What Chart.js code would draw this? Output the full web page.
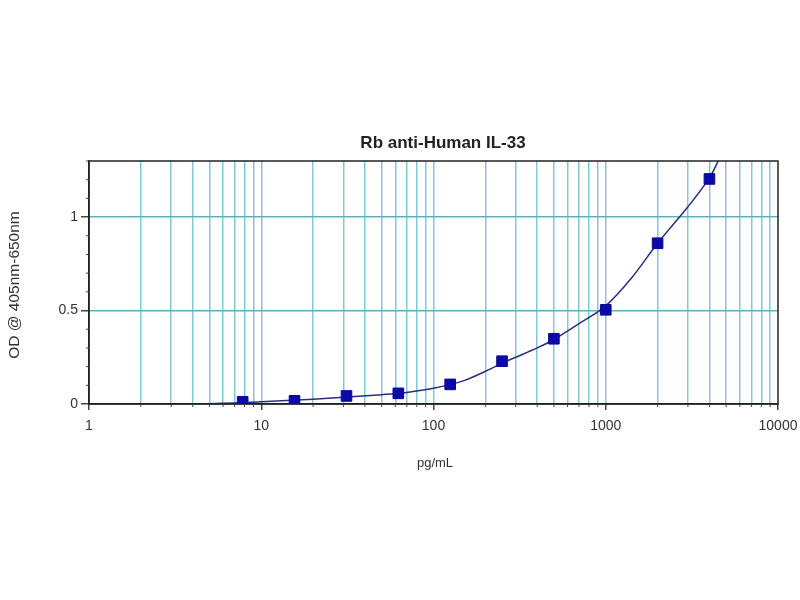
<!DOCTYPE html>
<html>
<head>
<meta charset="utf-8">
<script src="https://cdn.jsdelivr.net/npm/chart.js@4/dist/chart.umd.min.js"></script>
<style>
  html, body { margin: 0; padding: 0; background: #fff; }
  #wrap { width: 800px; height: 600px; }
</style>
</head>
<body>
<div id="wrap"><canvas id="grafica" width="800" height="600"></canvas></div>
<script>
// Concentraciones de los estandares (pg/mL) y su OD medida
const concentraciones = [7.8, 15.6, 31.25, 62.5, 125, 250, 500, 1000, 2000, 4000];
const valoresOD = [0.012, 0.017, 0.043, 0.057, 0.105, 0.229, 0.349, 0.504, 0.86, 1.204];

// Curva ajustada, leida punto a punto de la imagen
const curvaX = [4, 6, 8, 10, 15, 20, 30, 50, 70, 100, 150, 200, 250, 300, 400, 500, 700, 1000, 1400, 2000, 3000, 4000, 4550];
const curvaY = [0.0, 0.004, 0.008, 0.012, 0.02, 0.026, 0.036, 0.05, 0.062, 0.084, 0.125, 0.175, 0.218, 0.25, 0.30, 0.345, 0.43, 0.525, 0.67, 0.86, 1.055, 1.21, 1.31];

// Etiquetas de los ejes
const etiquetasX = [1, 10, 100, 1000, 10000];
const etiquetasY = [0, 0.5, 1];

const titulo = "Rb anti-Human IL-33";
const tituloX = "pg/mL";
const tituloY = "OD @ 405nm-650nm";

const colorGrid = "#82cad3";
const colorGridH = "#5fb2bd";
const fuente = "'Liberation Sans', Arial, sans-serif";

// Marco, marcas menores y textos (titulo y titulos de ejes)
const marcoPlugin = {
  id: "marco",
  afterDraw(chart) {
    const { ctx, chartArea: a } = chart;
    const sx = chart.scales.x, sy = chart.scales.y;
    ctx.save();
    ctx.strokeStyle = "#222";
    ctx.lineWidth = 1.5;
    ctx.strokeRect(a.left, a.top, a.right - a.left, a.bottom - a.top);

    // marcas menores del eje x
    ctx.lineWidth = 1;
    ctx.strokeStyle = "#444";
    ctx.beginPath();
    sx.ticks.forEach(t => {
      if (etiquetasX.includes(t.value)) return;
      const px = sx.getPixelForValue(t.value);
      ctx.moveTo(px, a.bottom);
      ctx.lineTo(px, a.bottom + 3);
    });
    // marcas menores del eje y
    sy.ticks.forEach(t => {
      const r = Math.round(t.value * 10) / 10;
      if (etiquetasY.includes(r)) return;
      const py = sy.getPixelForValue(t.value);
      ctx.moveTo(a.left - 3, py);
      ctx.lineTo(a.left, py);
    });
    ctx.stroke();

    ctx.fillStyle = "#222";
    ctx.textAlign = "center";
    ctx.textBaseline = "middle";
    ctx.font = "bold 17px " + fuente;
    ctx.fillText(titulo, 443, 143);
    ctx.fillStyle = "#333";
    ctx.font = "13px " + fuente;
    ctx.fillText(tituloX, 435, 463);
    ctx.font = "15.5px " + fuente;
    ctx.translate(15, 285);
    ctx.rotate(-Math.PI / 2);
    ctx.fillText(tituloY, 0, 0);
    ctx.restore();
  }
};

const puntos = concentraciones.map((x, i) => ({ x, y: valoresOD[i] }));
const curva = curvaX.map((x, i) => ({ x, y: curvaY[i] }));

new Chart(document.getElementById("grafica"), {
  type: "scatter",
  data: {
    datasets: [
      {
        data: curva,
        showLine: true,
        borderColor: "#2b2f7a",
        borderWidth: 1.5,
        pointRadius: 0,
        tension: 0.35,
        order: 2
      },
      {
        data: puntos,
        pointStyle: "rect",
        pointRadius: 7.5,
        backgroundColor: "#0a0aa8",
        borderColor: "#0a0a90",
        borderWidth: 1,
        order: 1
      }
    ]
  },
  options: {
    responsive: false,
    animation: false,
    layout: { padding: { left: 0, right: 22, top: 161, bottom: 0 } },
    plugins: {
      legend: { display: false },
      tooltip: { enabled: false },
      title: { display: false }
    },
    scales: {
      x: {
        type: "logarithmic",
        min: 1,
        max: 10000,
        afterFit(scale) {
          scale.height = 196;
          scale.paddingLeft = 0;
          scale.paddingRight = 0;
        },
        afterBuildTicks(scale) {
          const t = [];
          for (let d = 1; d < 10000; d *= 10) {
            for (let k = 1; k < 10; k++) t.push({ value: k * d });
          }
          t.push({ value: 10000 });
          scale.ticks = t;
        },
        ticks: {
          autoSkip: false,
          maxRotation: 0,
          padding: 8,
          color: "#333",
          font: { family: fuente, size: 14 },
          callback(v) { return etiquetasX.includes(v) ? String(v) : ""; }
        },
        grid: {
          color(c) { return (c.tick && (c.tick.value === 1 || c.tick.value === 10000)) ? "rgba(0,0,0,0)" : colorGrid; },
          lineWidth: 1.5,
          tickColor(c) { return (c.tick && etiquetasX.includes(c.tick.value)) ? "#444" : "rgba(0,0,0,0)"; },
          tickLength: 6
        },
        border: { color: "#222", width: 1.5 }
      },
      y: {
        min: 0,
        max: 1.3,
        afterFit(scale) {
          scale.width = 89;
          scale.paddingTop = 0;
          scale.paddingBottom = 0;
        },
        ticks: {
          stepSize: 0.1,
          autoSkip: false,
          padding: 3,
          color: "#333",
          font: { family: fuente, size: 14 },
          callback(v) {
            const r = Math.round(v * 10) / 10;
            return etiquetasY.includes(r) ? String(r) : "";
          }
        },
        grid: {
          color(c) {
            const r = Math.round(c.tick.value * 10) / 10;
            return (r === 0.5 || r === 1) ? colorGridH : "rgba(0,0,0,0)";
          },
          lineWidth: 1.5,
          tickColor(c) {
            const r = Math.round(c.tick.value * 10) / 10;
            return etiquetasY.includes(r) ? "#444" : "rgba(0,0,0,0)";
          },
          tickLength: 8
        },
        border: { color: "#222", width: 1.5 }
      }
    }
  },
  plugins: [marcoPlugin]
});
</script>
</body>
</html>
